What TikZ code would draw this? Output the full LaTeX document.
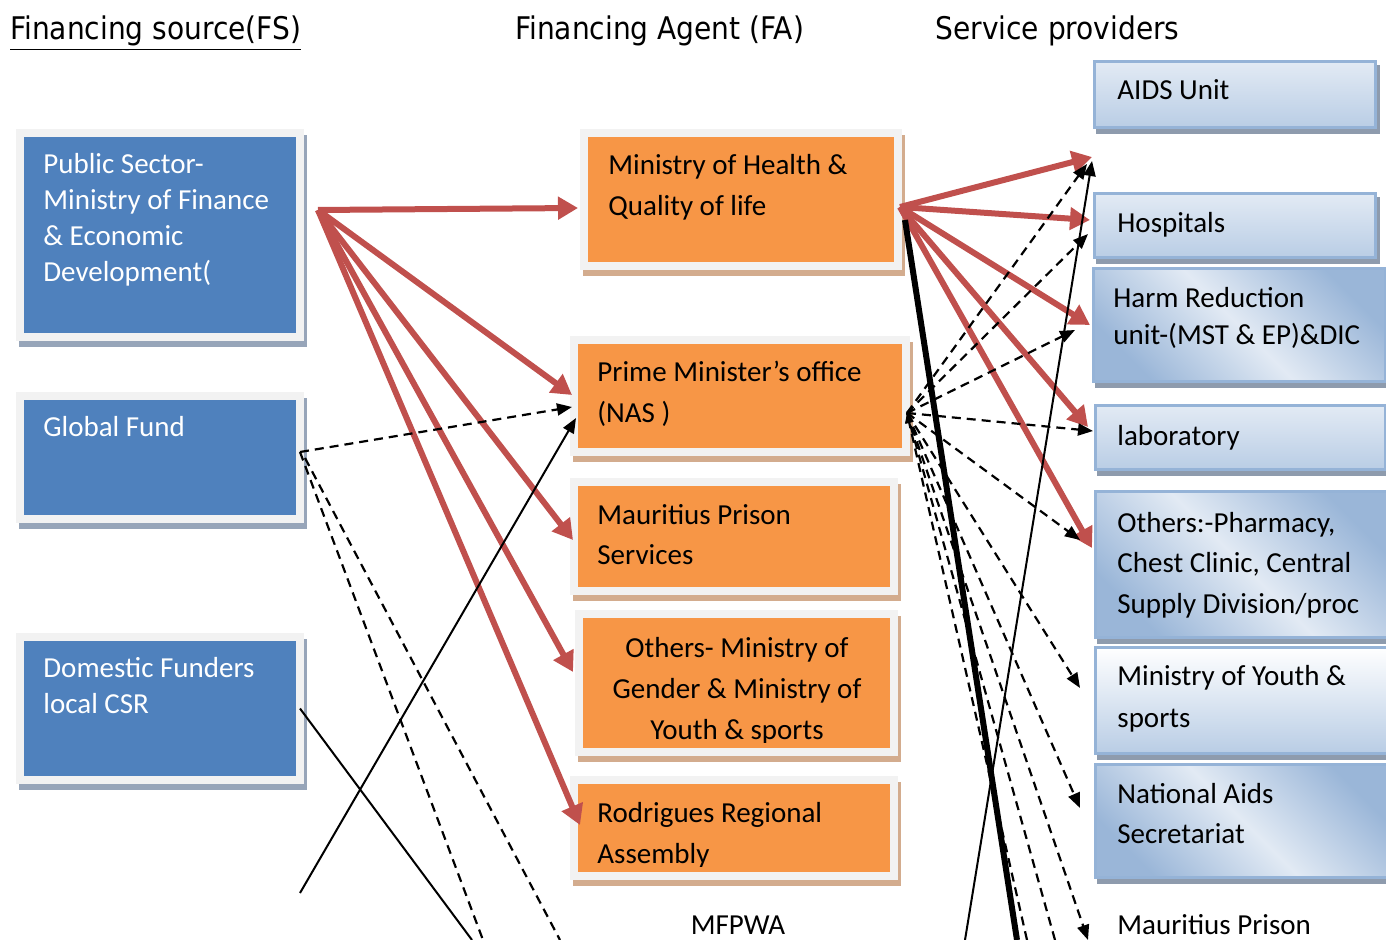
\documentclass[tikz,border=0pt]{standalone}
\usepackage{fontspec}
\setmainfont{Carlito}
\newfontfamily\headfont{DejaVu Sans Condensed}
\usetikzlibrary{positioning, arrows.meta, calc, shadows}

\definecolor{fsblue}{HTML}{4F81BD}
\definecolor{faorange}{HTML}{F79646}
\definecolor{flowred}{HTML}{C0504D}
\definecolor{framegray}{HTML}{F2F2F2}
\definecolor{tanshade}{HTML}{D3AC8E}
\definecolor{blueshade}{HTML}{97A5B9}
\definecolor{spborder}{HTML}{95B3D7}
\definecolor{sptop}{HTML}{E2EAF4}
\definecolor{spbottom}{HTML}{B9CDE5}
\definecolor{spdark}{HTML}{9AB6D8}
\definecolor{spshade}{HTML}{8E9BAD}

\tikzset{
  heading/.style={font=\headfont\fontsize{15.6}{18}\selectfont, inner sep=0pt},
  framed/.style={rectangle, draw=framegray, line width=4pt, inner sep=0pt, outer sep=0pt},
  fsbox/.style={framed, fill=fsblue,
    drop shadow={shadow xshift=1.5pt, shadow yshift=-3pt, fill=blueshade, draw=blueshade, line width=4pt, opacity=1}},
  fabox/.style={framed, fill=faorange,
    drop shadow={shadow xshift=1.5pt, shadow yshift=-3pt, fill=tanshade, draw=tanshade, line width=4pt, opacity=1}},
  spbox/.style={rectangle, draw=spborder, line width=1.5pt, inner sep=0pt, outer sep=0pt,
    top color=sptop, bottom color=spbottom,
    drop shadow={shadow xshift=1.5pt, shadow yshift=-2.5pt, fill=spshade, draw=spshade, line width=1.5pt, opacity=1}},
  spdiag/.style={spbox, top color=spdark, bottom color=spdark, middle color=sptop, shading angle=-45},
  fstext/.style={text=white, align=left, inner sep=0pt, font=\fontsize{14.5}{18}\selectfont},
  fatext/.style={align=left, inner sep=0pt, font=\fontsize{14.5}{20.5}\selectfont},
  flow/.style={draw=flowred, line width=3pt, -{Triangle[length=10pt,width=11pt]}},
  fund/.style={line width=1.1pt, dash pattern=on 4.5pt off 3pt, -{Triangle[length=7.5pt,width=6pt]}},
  link/.style={line width=1pt, -{Triangle[length=7.5pt,width=6pt]}}
}

\begin{document}
\begin{tikzpicture}[x=0.5pt, y=-0.5pt]
\useasboundingbox (0,0) rectangle (1386,940);

\node[heading, anchor=base west] (fshead) at (10,40) {\underline{Financing source(FS)}};
\node[heading, anchor=base west] (fahead) at (515,40) {Financing Agent (FA)};
\node[heading, anchor=base west] (sphead) at (935,40) {Service providers};

% financing sources (text nodes sit on the baseline of their last line)
\node[fsbox, minimum width=140pt, minimum height=102pt] (pubsec) at (160,235) {};
\node[fstext, anchor=base west] (pubsectext) at (43,282)
  {Public Sector-\\Ministry of Finance\\\& Economic\\Development(};
\node[fsbox, minimum width=140pt, minimum height=61.5pt] (gf) at (160,457.5) {};
\node[fstext, anchor=base west] (gftext) at (43,437) {Global Fund};
\node[fsbox, minimum width=140pt, minimum height=71.5pt] (dom) at (160,708.5) {};
\node[fstext, anchor=base west] (domtext) at (43,713) {Domestic Funders\\local CSR};

% financing agents
\node[fabox, minimum width=157pt, minimum height=66.5pt] (moh) at (741,199.5) {};
\node[fatext, anchor=base west] (mohtext) at (608,216) {Ministry of Health \&\\Quality of life};
\node[fabox, minimum width=166pt, minimum height=56pt] (nas) at (740,396) {};
\node[fatext, anchor=base west] (nastext) at (597,423) {Prime Minister’s office\\(NAS )};
\node[fabox, minimum width=160pt, minimum height=54.5pt] (prison) at (734,536.5) {};
\node[fatext, anchor=base west] (prisontext) at (597,565) {Mauritius Prison\\Services};
\node[fabox, minimum width=157.5pt, minimum height=69pt] (others) at (736.5,683) {};
\node[fabox, minimum width=160pt, minimum height=48pt] (rod) at (734,828) {};
\begin{scope}
  \clip ([shift={(4,4)}]others.north west) rectangle ([shift={(-4,-10)}]others.south east);
  \node[fatext, align=center, anchor=base] (otherstext) at (737,739)
    {Others- Ministry of\\Gender \& Ministry of\\Youth \& sports};
\end{scope}
\begin{scope}
  \clip ([shift={(4,4)}]rod.north west) rectangle ([shift={(-4,-10)}]rod.south east);
  \node[fatext, anchor=base west] (rodtext) at (597,863) {Rodrigues Regional\\Assembly};
\end{scope}
\node[fatext, anchor=base] (mfpwa) at (738,934) {MFPWA};

% service providers
\node[spbox, minimum width=140.5pt, minimum height=33pt] (aids) at (1234.5,95) {};
\node[fatext, anchor=base west] (aidstext) at (1117,100) {AIDS Unit};
\node[spbox, minimum width=140.5pt, minimum height=32pt] (hosp) at (1234.5,226) {};
\node[fatext, anchor=base west] (hosptext) at (1117,233) {Hospitals};
\node[spdiag, minimum width=146pt, minimum height=56.5pt] (harm) at (1239,325.5) {};
\node[fatext, anchor=base west, font=\fontsize{14.5}{18.5}\selectfont] (harmtext) at (1113,345)
  {Harm Reduction\\unit-(MST \& EP)\&DIC};
\node[spbox, minimum width=145pt, minimum height=32pt] (lab) at (1240,438) {};
\node[fatext, anchor=base west] (labtext) at (1117,446) {laboratory};
\node[spdiag, minimum width=147.5pt, minimum height=72.5pt] (othsp) at (1242.5,564.5) {};
\node[fatext, anchor=base west, font=\fontsize{14.5}{20.25}\selectfont] (othsptext) at (1117,613)
  {Others:-Pharmacy,\\Chest Clinic, Central\\Supply Division/proc};
\node[spbox, top color=white, minimum width=147.5pt, minimum height=53pt] (youth) at (1242.5,700) {};
\node[fatext, anchor=base west, font=\fontsize{14.5}{21}\selectfont] (youthtext) at (1117,727)
  {Ministry of Youth \&\\sports};
\node[spdiag, minimum width=147.5pt, minimum height=56.5pt] (nac) at (1242.5,820.5) {};
\node[fatext, anchor=base west, font=\fontsize{14.5}{20}\selectfont] (nactext) at (1117,843)
  {National Aids\\Secretariat};
\node[fatext, anchor=base west] (mpsp) at (1117,934) {Mauritius Prison};

% where the connectors leave the boxes
\coordinate (psout) at ([shift={(18,-25)}]pubsec.east);
\coordinate (gfout) at ([shift={(0,-5.5)}]gf.east);
\coordinate (mohout) at ([shift={(2,7.5)}]moh.east);
\coordinate (mohfoot) at ([shift={(7,20.5)}]moh.east);
\coordinate (nasout) at ([shift={(1,17)}]nas.east);
\coordinate (gfdownA) at (483,940);
\coordinate (gfdownB) at (560,940);
\coordinate (mfpwaup) at (300,893);
\coordinate (domdown) at (472,940);
\coordinate (spup) at (965,940);
\coordinate (mohdown) at (1017,940);
\coordinate (nasdownA) at (1027,940);
\coordinate (nasdownB) at (1055,940);

% public sector funds
\draw[flow] (psout) -- ([shift={(-6,8.5)}]moh.west);
\draw[flow] (psout) -- ([shift={(-2,-1)}]nas.west);
\draw[flow] (psout) -- ([shift={(-1,3.5)}]prison.west);
\draw[flow] (psout) -- ([shift={(-6,-11)}]others.west);
\draw[flow] (psout) -- ([shift={(6,-3)}]rod.west);

% global fund and domestic funders
\draw[fund] (gfout) -- ([shift={(-2,11)}]nas.west);
\draw[fund, -] (gfout) -- (gfdownA);
\draw[fund, -] ([shift={(5,6)}]gfout) -- (gfdownB);
\draw[link] (mfpwaup) -- ([shift={(2,22)}]nas.west);
\draw[line width=1pt] (dom.east) -- (domdown);

% ministry of health to providers
\draw[flow] (mohout) -- ([shift={(-2,29)}]aids.south west);
\draw[flow] (mohout) -- ([shift={(-4,-6)}]hosp.west);
\draw[flow] (mohout) -- ([shift={(-3,-0.5)}]harm.west);
\draw[flow] (mohout) -- ([shift={(-7,-11)}]lab.west);
\draw[flow] (mohout) -- ([shift={(-3,-16.5)}]othsp.west);
\draw[line width=3pt] (mohfoot) -- (mohdown);

% NAS to providers
\draw[fund] (nasout) -- ([shift={(-7,36)}]aids.south west);
\draw[fund] (nasout) -- ([shift={(-6,8)}]hosp.west);
\draw[fund] (nasout) -- ([shift={(-18,4.5)}]harm.west);
\draw[fund] (nasout) -- ([shift={(-2,-7)}]lab.west);
\draw[fund] (nasout) -- ([shift={(-15,-24.5)}]othsp.west);
\draw[fund] (nasout) -- ([shift={(-15,-12)}]youth.west);
\draw[fund] (nasout) -- ([shift={(-15,-12.5)}]nac.west);
\draw[fund] (nasout) -- ([shift={(-29,6)}]mpsp.base west);
\draw[fund, -{Triangle[length=5pt,width=4pt]}] (nasdownA) -- (nasout);
\draw[fund, -{Triangle[length=5pt,width=4pt]}] (nasdownB) -- (nasout);
\draw[link] (spup) -- ([shift={(-2,33)}]aids.south west);

\end{tikzpicture}
\end{document}
